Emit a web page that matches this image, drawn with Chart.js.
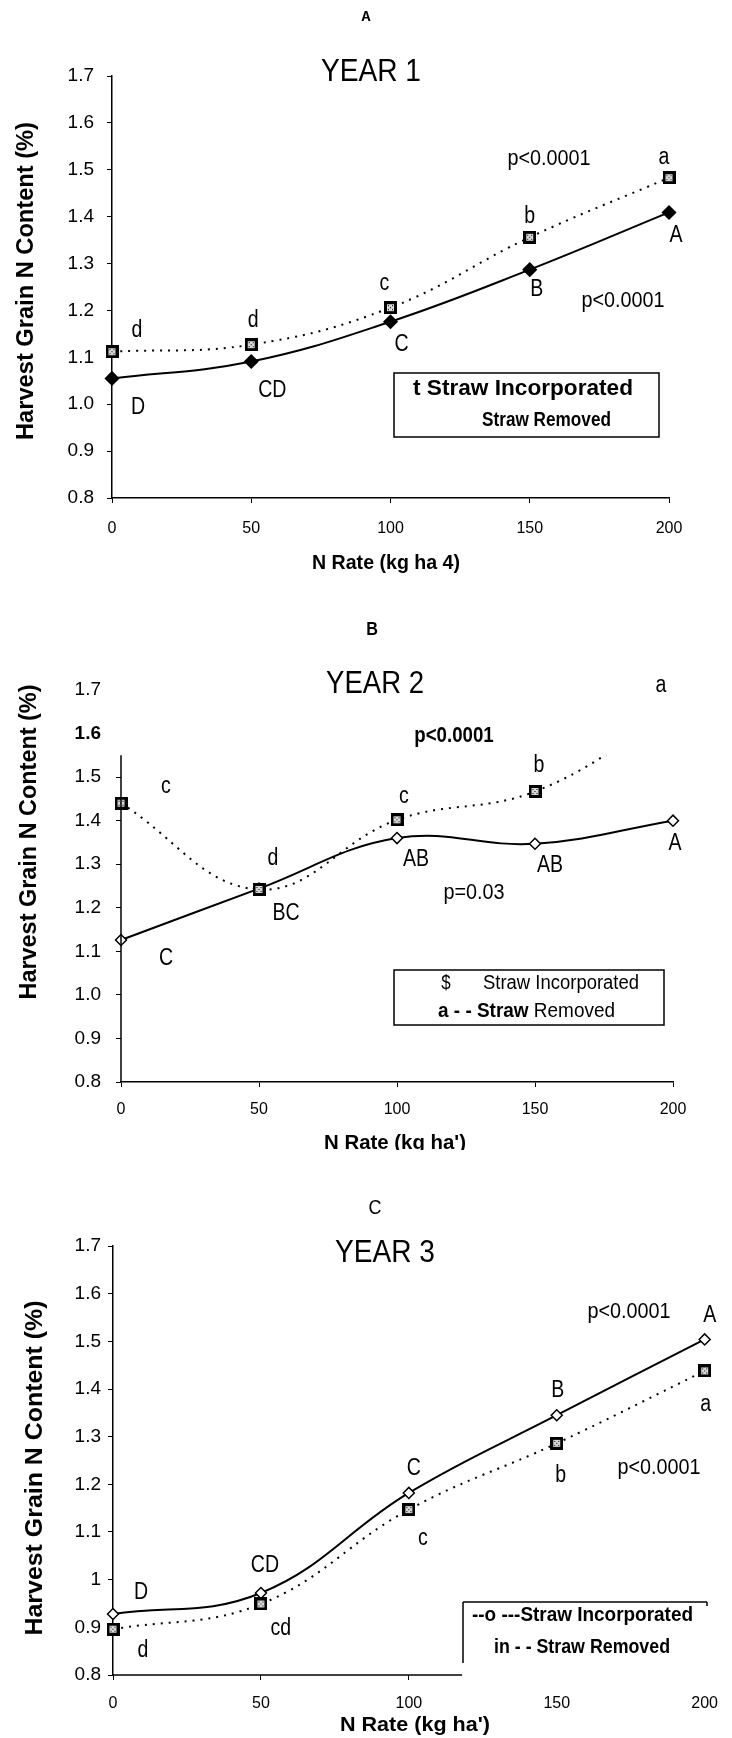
<!DOCTYPE html>
<html>
<head>
<meta charset="utf-8">
<script src="https://cdn.jsdelivr.net/npm/chart.js@4.4.1/dist/chart.umd.min.js"></script>
<style>
    html, body { margin: 0; padding: 0; background: #fff; }
    body { position: relative; width: 732px; height: 1738px; overflow: hidden; }
    canvas { position: absolute; left: 0; }
</style>
</head>
<body>
<canvas id="year1" width="732" height="590" style="top:0px"></canvas>
<canvas id="year2" width="732" height="550" style="top:600px"></canvas>
<canvas id="year3" width="732" height="588" style="top:1150px"></canvas>
<script>
// N rates (kg/ha) and grain N content (%) per year
const nRates = [0, 50, 100, 150, 200]

const year1Incorporated = [1.055, 1.091, 1.176, 1.287, 1.409]
const year1Removed = [1.112, 1.127, 1.206, 1.356, 1.483]
const year2Incorporated = [1.126, 1.244, 1.36, 1.347, 1.40]
const year2Removed = [1.44, 1.242, 1.402, 1.467, 1.65]
const year3Incorporated = [0.928, 0.972, 1.182, 1.345, 1.504]
const year3Removed = [0.896, 0.949, 1.147, 1.286, 1.438]

// mean separation letters
const year1IncLetters = ['D', 'CD', 'C', 'B', 'A']
const year1RemLetters = ['d', 'd', 'c', 'b', 'a']
const year2IncLetters = ['C', 'BC', 'AB', 'AB', 'A']
const year2RemLetters = ['c', 'd', 'c', 'b', 'a']
const year3IncLetters = ['D', 'CD', 'C', 'B', 'A']
const year3RemLetters = ['d', 'cd', 'c', 'b', 'a']

const SANS = "'Liberation Sans', Arial, sans-serif"
const LETTER_FONT = `23px ${SANS}`
const P_FONT = `22px ${SANS}`

function squareMarker() {
    const c = document.createElement('canvas')
    c.width = 13
    c.height = 13
    const g = c.getContext('2d')
    g.fillStyle = '#000'
    g.fillRect(0, 0, 13, 13)
    g.fillStyle = '#d8d8d8'
    g.fillRect(3, 3, 7, 7)
    g.fillStyle = '#000'
    g.fillRect(4, 4, 1, 1)
    g.fillRect(8, 4, 1, 1)
    g.fillRect(4, 8, 1, 1)
    g.fillRect(8, 8, 1, 1)
    g.fillRect(6, 6, 1, 1)
    return c
}
const square = squareMarker()

// fit: target width in px, or sx: plain horizontal squeeze
function write(ctx, text, x, y, font, align = 'center', fit, sx) {
    ctx.save()
    ctx.font = font
    ctx.textAlign = align
    ctx.textBaseline = 'middle'
    ctx.fillStyle = '#000'
    ctx.translate(x, y)
    if (fit) {
        ctx.scale(fit / ctx.measureText(text).width, 1)
    } else if (sx) {
        ctx.scale(sx, 1)
    }
    ctx.fillText(text, 0, 0)
    ctx.restore()
}

function writeRuns(ctx, runs, x, y, fit) {
    let natural = 0
    for (const [text, font] of runs) {
        ctx.font = font
        natural += ctx.measureText(text).width
    }
    ctx.save()
    ctx.translate(x, y)
    ctx.scale(fit ? fit / natural : 1, 1)
    let cx = 0
    for (const [text, font] of runs) {
        write(ctx, text, cx, 0, font, 'left')
        ctx.font = font
        cx += ctx.measureText(text).width
    }
    ctx.restore()
}

function yTitle(ctx, x, y, fit) {
    ctx.save()
    ctx.translate(x, y)
    ctx.rotate(-Math.PI / 2)
    write(ctx, 'Harvest Grain N Content (%)', 0, 0, `bold 24px ${SANS}`, 'center', fit)
    ctx.restore()
}

function line(ctx, x1, y1, x2, y2, width = 1.5) {
    ctx.beginPath()
    ctx.moveTo(x1, y1)
    ctx.lineTo(x2, y2)
    ctx.lineWidth = width
    ctx.strokeStyle = '#000'
    ctx.stroke()
}

function makePanel(p) {
    const decor = {
        id: 'decor',
        beforeDatasetsDraw(chart) {
            const ctx = chart.ctx
            ctx.save()
            if (p.clipAbove !== undefined) {
                const top = chart.scales.y.getPixelForValue(p.clipAbove)
                ctx.beginPath()
                ctx.rect(0, top, chart.width, chart.height - top)
                ctx.clip()
            }
        },
        afterDatasetsDraw(chart) {
            chart.ctx.restore()
        },
        afterDraw(chart) {
            const ctx = chart.ctx
            const sets = [[0, p.remLetters, p.remOffsets], [1, p.incLetters, p.incOffsets]]
            for (const [i, letters, offsets] of sets) {
                const meta = chart.getDatasetMeta(i)
                meta.data.forEach((pt, j) => {
                    write(ctx, letters[j], pt.x + offsets[j][0], pt.y + offsets[j][1], LETTER_FONT, 'center', 0, 0.85)
                })
            }
            p.decorate(ctx, chart)
        }
    }

    return new Chart(document.getElementById(p.id), {
        type: 'line',
        data: {
            datasets: [{
                label: 'Straw Removed',
                data: nRates.map((x, i) => ({ x: x, y: p.removed[i] })),
                borderColor: '#000',
                borderWidth: 2,
                borderDash: [2, 6],
                tension: 0.4,
                pointStyle: square,
                order: 0,
                clip: false
            }, {
                label: 'Straw Incorporated',
                data: nRates.map((x, i) => ({ x: x, y: p.incorporated[i] })),
                borderColor: '#000',
                borderWidth: 2,
                tension: 0.4,
                pointStyle: 'rectRot',
                pointRadius: p.filled ? 6.5 : 5.5,
                pointBackgroundColor: p.filled ? '#000' : '#fff',
                pointBorderColor: '#000',
                pointBorderWidth: 1.5,
                order: 1,
                clip: false
            }]
        },
        options: {
            responsive: false,
            animation: false,
            events: [],
            layout: {
                padding: { left: 0, top: p.top, right: p.right, bottom: 0 }
            },
            scales: {
                x: {
                    type: 'linear',
                    min: 0,
                    max: 200,
                    afterFit: s => { s.height = p.xHeight },
                    border: { display: p.xBorder !== false, color: '#000', width: 1.5 },
                    grid: {
                        drawOnChartArea: false,
                        tickLength: 5,
                        tickColor: ctx => (p.xTickEnd !== undefined && ctx.tick && ctx.tick.value > p.xTickEnd) ? 'rgba(0,0,0,0)' : '#000'
                    },
                    ticks: {
                        stepSize: 50,
                        padding: p.xTickPad,
                        color: '#000',
                        font: { family: SANS, size: 16 }
                    }
                },
                y: {
                    min: 0.8,
                    max: 1.7,
                    afterFit: s => { s.width = p.left },
                    border: { display: p.yBorder !== false, color: '#000', width: 1.5 },
                    grid: {
                        drawOnChartArea: false,
                        tickLength: 5,
                        tickColor: ctx => (p.clipAbove !== undefined && ctx.tick && ctx.tick.value > p.clipAbove) ? 'rgba(0,0,0,0)' : '#000'
                    },
                    ticks: {
                        stepSize: 0.1,
                        padding: p.yTickPad,
                        color: '#000',
                        font: p.yFont || { family: SANS, size: 19 },
                        callback: p.yFormat || (v => v.toFixed(1))
                    }
                }
            },
            plugins: {
                legend: { display: false },
                tooltip: { enabled: false }
            }
        },
        plugins: [decor]
    })
}

// Year 1
makePanel({
    id: 'year1',
    incorporated: year1Incorporated,
    removed: year1Removed,
    incLetters: year1IncLetters,
    remLetters: year1RemLetters,
    incOffsets: [[26, 29], [21, 29], [11, 23], [7, 20], [7, 23]],
    remOffsets: [[25, -21], [2, -24], [-6, -24], [0, -21], [-5, -20]],
    filled: true,
    top: 76,
    left: 112,
    right: 63,
    xHeight: 92,
    xTickPad: 16,
    yTickPad: 13,
    decorate: ctx => {
        write(ctx, 'A', 366, 17, `bold 15px 'Liberation Mono', monospace`)
        write(ctx, 'YEAR 1', 371, 72, `31px ${SANS}`, 'center', 100)
        write(ctx, 'p<0.0001', 549, 159, P_FONT, 'center', 0, 0.9)
        write(ctx, 'p<0.0001', 623, 301, P_FONT, 'center', 0, 0.9)
        yTitle(ctx, 26, 281, 318)
        write(ctx, 'N Rate (kg ha 4)', 386, 563, `bold 21px ${SANS}`, 'center', 148)
        ctx.fillStyle = '#fff'
        ctx.fillRect(394, 373, 265, 64)
        ctx.lineWidth = 1.5
        ctx.strokeStyle = '#000'
        ctx.strokeRect(394, 373, 265, 64)
        write(ctx, 't Straw Incorporated', 413, 389, `bold 22px ${SANS}`, 'left', 220)
        write(ctx, 'Straw Removed', 482, 420, `bold 20px ${SANS}`, 'left', 129)
    }
})

// Year 2
makePanel({
    id: 'year2',
    incorporated: year2Incorporated,
    removed: year2Removed,
    incLetters: year2IncLetters,
    remLetters: year2RemLetters,
    incOffsets: [[45, 19], [27, 25], [19, 22], [15, 22], [2, 23]],
    remOffsets: [[45, -17], [14, -31], [7, -23], [4, -26], [-12, -26]],
    filled: false,
    clipAbove: 1.55,
    yBorder: false,
    top: 90,
    left: 121,
    right: 59,
    xHeight: 68,
    xTickPad: 13,
    yTickPad: 15,
    yFont: ctx => ({
        family: SANS,
        size: 19,
        weight: ctx.tick && Math.abs(ctx.tick.value - 1.6) < 1e-6 ? 'bold' : 'normal'
    }),
    decorate: (ctx, chart) => {
        const y = chart.scales.y
        line(ctx, chart.chartArea.left, y.getPixelForValue(0.8), chart.chartArea.left, y.getPixelForValue(1.55))
        write(ctx, 'B', 372, 30, `bold 18px ${SANS}`, 'center', 0, 0.9)
        write(ctx, 'YEAR 2', 375, 84, `31px ${SANS}`, 'center', 98)
        write(ctx, 'p<0.0001', 454, 136, `bold ${P_FONT}`, 'center', 0, 0.85)
        write(ctx, 'p=0.03', 474, 293, P_FONT, 'center', 0, 0.9)
        yTitle(ctx, 29, 242, 315)
        write(ctx, "N Rate (kg ha')", 395, 543, `bold 21px ${SANS}`, 'center', 142)
        ctx.fillStyle = '#fff'
        ctx.fillRect(394, 370, 270, 55)
        ctx.lineWidth = 1.5
        ctx.strokeStyle = '#000'
        ctx.strokeRect(394, 370, 270, 55)
        write(ctx, '$', 446, 383, `20px ${SANS}`, 'center', 0, 0.85)
        write(ctx, 'Straw Incorporated', 483, 383, `20px ${SANS}`, 'left', 156)
        writeRuns(ctx, [['a - - Straw', `bold 20px ${SANS}`], [' Removed', `20px ${SANS}`]], 438, 411, 177)
    }
})

// Year 3
makePanel({
    id: 'year3',
    incorporated: year3Incorporated,
    removed: year3Removed,
    incLetters: year3IncLetters,
    remLetters: year3RemLetters,
    incOffsets: [[28, -21], [4, -27], [5, -24], [1, -25], [5, -24]],
    remOffsets: [[30, 21], [20, 25], [14, 29], [4, 32], [1, 34]],
    filled: false,
    xBorder: false,
    xTickEnd: 118,
    top: 96,
    left: 113,
    right: 15,
    xHeight: 63,
    xTickPad: 14,
    yTickPad: 7,
    yFormat: v => Math.abs(v - 1) < 1e-6 ? '1' : v.toFixed(1),
    decorate: (ctx, chart) => {
        const x = chart.scales.x
        const area = chart.chartArea
        line(ctx, area.left, area.bottom, x.getPixelForValue(118), area.bottom)
        write(ctx, 'C', 375, 58, `20px ${SANS}`, 'center', 0, 0.9)
        write(ctx, 'YEAR 3', 385, 103, `31px ${SANS}`, 'center', 100)
        write(ctx, 'p<0.0001', 629, 162, P_FONT, 'center', 0, 0.9)
        write(ctx, 'p<0.0001', 659, 318, P_FONT, 'center', 0, 0.9)
        yTitle(ctx, 35, 318, 335)
        write(ctx, "N Rate (kg ha')", 415, 575, `bold 21px ${SANS}`, 'center', 150)
        line(ctx, 463, 452, 707, 452)
        line(ctx, 463, 452, 463, 513)
        line(ctx, 707, 452, 707, 456)
        write(ctx, '--o ---Straw Incorporated', 472, 465, `bold 20px ${SANS}`, 'left', 221)
        write(ctx, 'in - - Straw Removed', 494, 497, `bold 20px ${SANS}`, 'left', 176)
    }
})
</script>
</body>
</html>
